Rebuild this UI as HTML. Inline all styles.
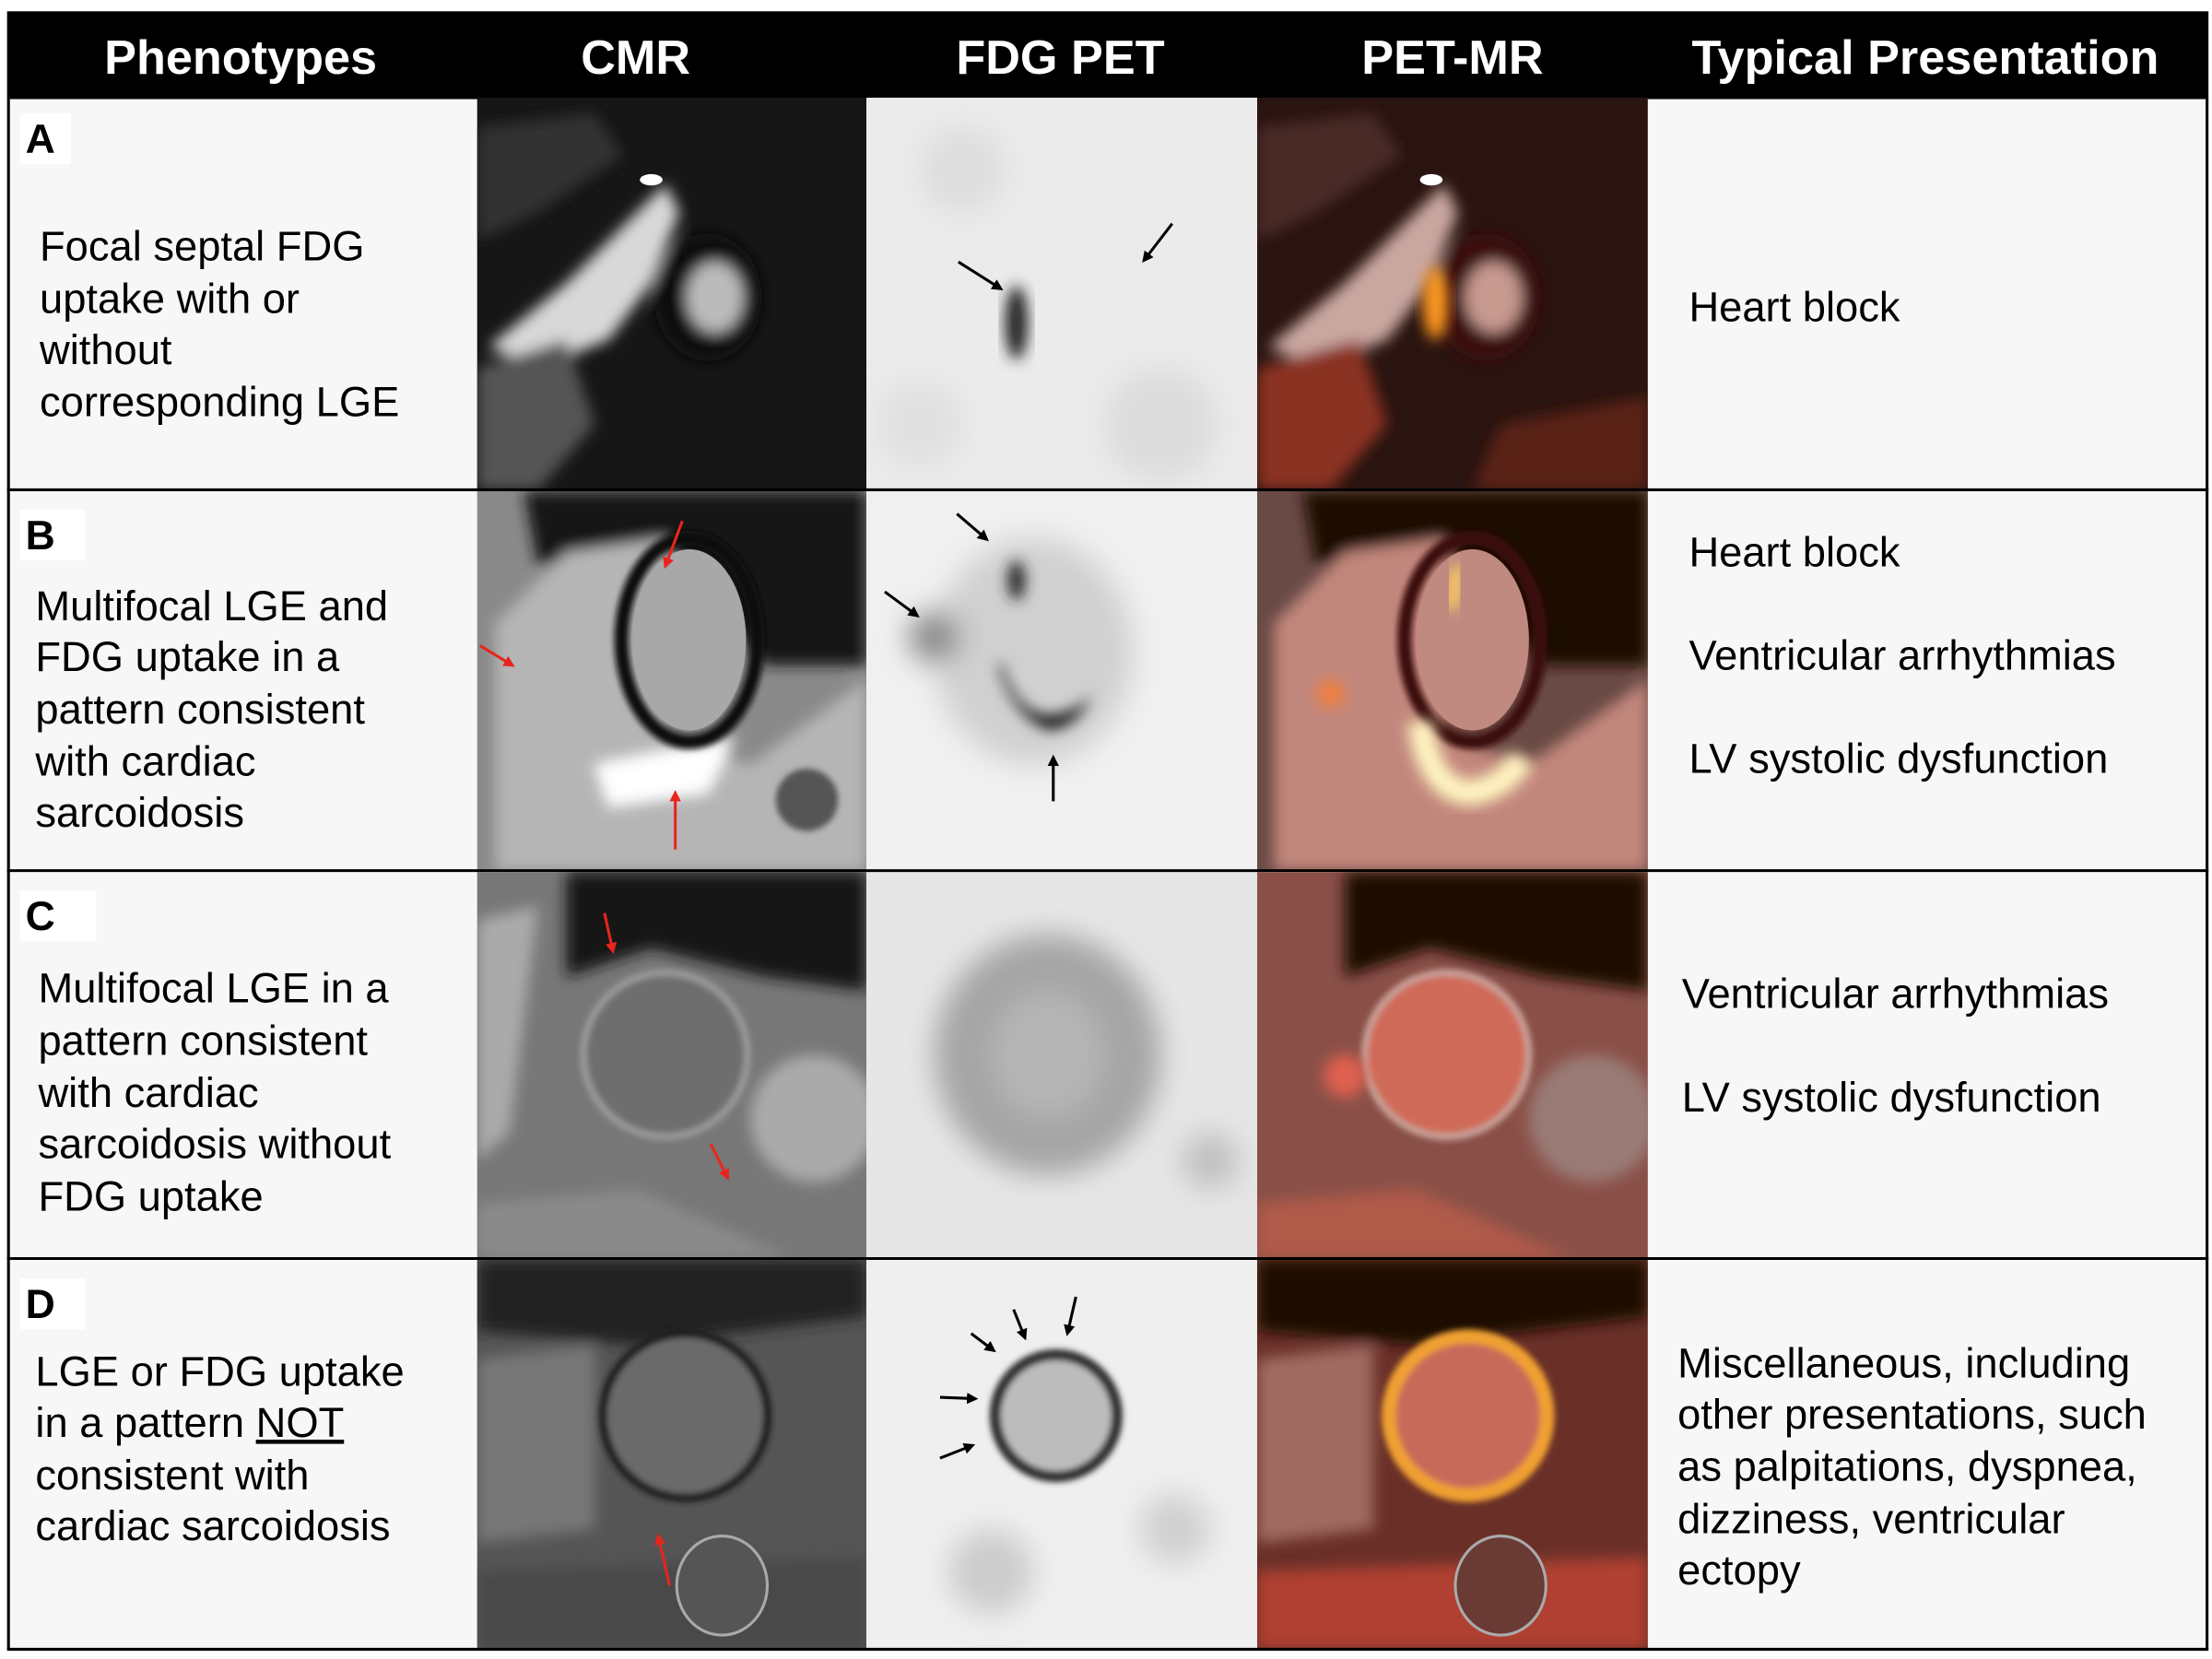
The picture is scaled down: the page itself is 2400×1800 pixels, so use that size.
<!DOCTYPE html>
<html><head><meta charset="utf-8"><style>
html,body{margin:0;padding:0;background:#fff;}
svg{display:block;}
text{font-family:"Liberation Sans",Arial,sans-serif;}
</style></head><body>
<svg width="2400" height="1800" viewBox="0 0 1562.5 1171.875" xmlns="http://www.w3.org/2000/svg">
<defs>
<filter id="b2" x="-20%" y="-20%" width="140%" height="140%"><feGaussianBlur stdDeviation="2"/></filter>
<filter id="b5" x="-30%" y="-30%" width="160%" height="160%"><feGaussianBlur stdDeviation="5"/></filter>
<filter id="b10" x="-50%" y="-50%" width="200%" height="200%"><feGaussianBlur stdDeviation="10"/></filter>
<clipPath id="cA1"><rect x="337" y="69" width="275" height="277"/></clipPath>
<clipPath id="cA2"><rect x="612" y="69" width="276" height="277"/></clipPath>
<clipPath id="cA3"><rect x="888" y="69" width="276" height="277"/></clipPath>
<clipPath id="cB1"><rect x="337" y="347" width="275" height="268"/></clipPath>
<clipPath id="cB2"><rect x="612" y="347" width="276" height="268"/></clipPath>
<clipPath id="cB3"><rect x="888" y="347" width="276" height="268"/></clipPath>
<clipPath id="cC1"><rect x="337" y="616" width="275" height="273"/></clipPath>
<clipPath id="cC2"><rect x="612" y="616" width="276" height="273"/></clipPath>
<clipPath id="cC3"><rect x="888" y="616" width="276" height="273"/></clipPath>
<clipPath id="cD1"><rect x="337" y="890" width="275" height="275"/></clipPath>
<clipPath id="cD2"><rect x="612" y="890" width="276" height="275"/></clipPath>
<clipPath id="cD3"><rect x="888" y="890" width="276" height="275"/></clipPath>
<marker id="ak" markerWidth="8" markerHeight="8" refX="6" refY="4" orient="auto" markerUnits="userSpaceOnUse"><path d="M0,0 L8,4 L0,8 Z" fill="#000"/></marker>
<marker id="ar" markerWidth="8" markerHeight="8" refX="6" refY="4" orient="auto" markerUnits="userSpaceOnUse"><path d="M0,0 L8,4 L0,8 Z" fill="#e8251c"/></marker>
</defs>

<rect x="5" y="69" width="1555" height="1097" fill="#f7f7f7"/>
<rect x="5" y="8" width="1555" height="62" fill="#000"/>
<g fill="#fff" font-weight="bold" font-size="34" text-anchor="middle">
<text x="170" y="52">Phenotypes</text>
<text x="449" y="52">CMR</text>
<text x="749" y="52">FDG PET</text>
<text x="1026" y="52">PET-MR</text>
<text x="1360" y="52">Typical Presentation</text>
</g>

<g clip-path="url(#cA1)">
<rect x="337" y="69" width="275" height="277" fill="#161616"/>
<g filter="url(#b5)">
<path d="M345,245 L400,200 L450,150 L470,130 L480,150 L460,200 L430,240 L380,260 Z" fill="#d8d8d8"/>
<ellipse cx="500" cy="210" rx="38" ry="45" fill="#0a0a0a"/>
<ellipse cx="505" cy="210" rx="20" ry="25" fill="#bbb"/>
<path d="M337,260 L400,240 L420,300 L380,346 L337,346Z" fill="#555"/>
<path d="M337,90 L420,80 L440,110 L380,150 L337,170Z" fill="#333"/>
</g>
<ellipse cx="460" cy="127" rx="8" ry="4" fill="#fff"/>
</g>
<g clip-path="url(#cA2)">
<rect x="612" y="69" width="276" height="277" fill="#ebebeb"/>
<g filter="url(#b10)"><circle cx="680" cy="120" r="30" fill="#ddd"/><circle cx="820" cy="300" r="40" fill="#dcdcdc"/><circle cx="650" cy="300" r="30" fill="#e0e0e0"/></g>
<ellipse cx="718" cy="228" rx="8" ry="26" fill="#222" filter="url(#b5)"/>
<line x1="677" y1="185" x2="707" y2="204" stroke="#000" stroke-width="2" marker-end="url(#ak)"/>
<line x1="828" y1="158" x2="808" y2="184" stroke="#000" stroke-width="2" marker-end="url(#ak)"/>
</g>
<g clip-path="url(#cA3)">
<rect x="888" y="69" width="276" height="277" fill="#2a1410"/>
<g filter="url(#b5)">
<path d="M896,245 L950,200 L1000,150 L1020,130 L1030,150 L1010,200 L980,240 L930,260 Z" fill="#c9a7a0"/>
<ellipse cx="1050" cy="210" rx="38" ry="45" fill="#3a0f0a"/>
<ellipse cx="1055" cy="210" rx="20" ry="25" fill="#c79a90"/>
<path d="M888,260 L960,240 L980,300 L940,346 L888,346Z" fill="#8a3020"/>
<path d="M888,90 L970,80 L990,110 L930,150 L888,170Z" fill="#4a2a25"/>
<path d="M1060,300 L1164,280 L1164,346 L1040,346Z" fill="#5a2018"/>
</g>
<ellipse cx="1014" cy="214" rx="9" ry="26" fill="#ff9a20" filter="url(#b5)"/>
<ellipse cx="1011" cy="127" rx="8" ry="4" fill="#fff"/>
</g>

<g clip-path="url(#cB1)">
<rect x="337" y="347" width="275" height="268" fill="#8a8a8a"/>
<g filter="url(#b5)">
<path d="M370,347 L612,347 L612,470 L540,470 L470,380 L380,400 Z" fill="#141414"/>
<path d="M350,560 L350,440 L400,390 L470,380 L470,520 L530,540 L612,480 L612,615 L350,615Z" fill="#b5b5b5"/>
<path d="M420,540 L470,530 L520,520 L500,560 L430,570Z" fill="#fff"/>
</g>
<ellipse cx="487" cy="452" rx="48" ry="72" fill="none" stroke="#111" stroke-width="10" filter="url(#b2)"/>
<ellipse cx="487" cy="452" rx="40" ry="64" fill="#a8a8a8"/>
<circle cx="570" cy="565" r="22" fill="#555" filter="url(#b2)"/>
<line x1="482" y1="368" x2="470" y2="400" stroke="#e8251c" stroke-width="2" marker-end="url(#ar)"/>
<line x1="339" y1="456" x2="362" y2="470" stroke="#e8251c" stroke-width="2" marker-end="url(#ar)"/>
<line x1="477" y1="600" x2="477" y2="560" stroke="#e8251c" stroke-width="2" marker-end="url(#ar)"/>
</g>
<g clip-path="url(#cB2)">
<rect x="612" y="347" width="276" height="268" fill="#f0f0f0"/>
<g filter="url(#b10)"><ellipse cx="730" cy="460" rx="70" ry="80" fill="#d0d0d0"/><circle cx="660" cy="450" r="18" fill="#888"/></g>
<g filter="url(#b5)">
<ellipse cx="718" cy="410" rx="6" ry="14" fill="#222"/>
<path d="M707,468 Q720,510 748,505 Q765,500 772,490 Q760,515 740,515 Q715,505 705,470Z" fill="#000"/>
</g>
<line x1="676" y1="363" x2="697" y2="381" stroke="#000" stroke-width="2" marker-end="url(#ak)"/>
<line x1="625" y1="418" x2="648" y2="435" stroke="#000" stroke-width="2" marker-end="url(#ak)"/>
<line x1="744" y1="566" x2="744" y2="535" stroke="#000" stroke-width="2" marker-end="url(#ak)"/>
</g>
<g clip-path="url(#cB3)">
<rect x="888" y="347" width="276" height="268" fill="#6a4a45"/>
<g filter="url(#b5)">
<path d="M920,347 L1164,347 L1164,470 L1090,470 L1020,380 L930,400 Z" fill="#1e0705"/>
<path d="M900,560 L900,440 L950,390 L1020,380 L1020,520 L1080,540 L1164,480 L1164,615 L900,615Z" fill="#c2877c"/>
</g>
<ellipse cx="1040" cy="452" rx="48" ry="72" fill="none" stroke="#3a0c08" stroke-width="10" filter="url(#b2)"/>
<ellipse cx="1040" cy="452" rx="40" ry="64" fill="#c08a80"/>
<path d="M1003,510 Q1010,560 1040,560 Q1065,555 1075,535" fill="none" stroke="#fff4c0" stroke-width="18" filter="url(#b5)"/>
<path d="M1025,430 L1030,400" stroke="#ffd060" stroke-width="10" filter="url(#b5)"/>
<circle cx="940" cy="490" r="10" fill="#f08040" filter="url(#b5)"/>
</g>

<g clip-path="url(#cC1)">
<rect x="337" y="616" width="275" height="273" fill="#777"/>
<g filter="url(#b5)">
<path d="M400,616 L612,616 L612,700 L540,690 L460,670 L400,690Z" fill="#121212"/>
<path d="M337,650 L380,640 L360,800 L337,820Z" fill="#aaa"/>
<path d="M337,850 L450,840 L560,889 L337,889Z" fill="#8a8a8a"/>
<circle cx="575" cy="790" r="45" fill="#aaa"/>
</g>
<circle cx="470" cy="745" r="58" fill="#6e6e6e" stroke="#9a9a9a" stroke-width="5" filter="url(#b2)"/>
<line x1="427" y1="645" x2="433" y2="672" stroke="#e8251c" stroke-width="2" marker-end="url(#ar)"/>
<line x1="502" y1="808" x2="514" y2="832" stroke="#e8251c" stroke-width="2" marker-end="url(#ar)"/>
</g>
<g clip-path="url(#cC2)">
<rect x="612" y="616" width="276" height="273" fill="#e6e6e6"/>
<g filter="url(#b10)">
<ellipse cx="740" cy="745" rx="80" ry="85" fill="#a5a5a5"/>
<ellipse cx="740" cy="745" rx="40" ry="45" fill="#b5b5b5"/>
<circle cx="855" cy="820" r="20" fill="#c0c0c0"/>
</g>
</g>
<g clip-path="url(#cC3)">
<rect x="888" y="616" width="276" height="273" fill="#8a5048"/>
<g filter="url(#b5)">
<path d="M950,616 L1164,616 L1164,700 L1090,690 L1010,670 L950,690Z" fill="#1a0806"/>
<circle cx="1125" cy="790" r="45" fill="#9a7a75"/>
<path d="M888,850 L1000,840 L1110,889 L888,889Z" fill="#b05a48"/>
</g>
<circle cx="1022" cy="745" r="58" fill="#d06a58" stroke="#c8a098" stroke-width="5" filter="url(#b2)"/>
<circle cx="950" cy="760" r="15" fill="#e06050" filter="url(#b5)"/>
</g>

<g clip-path="url(#cD1)">
<rect x="337" y="890" width="275" height="275" fill="#555"/>
<g filter="url(#b5)">
<path d="M337,890 L612,890 L612,930 L450,950 L337,940Z" fill="#222"/>
<path d="M337,960 L420,950 L420,1080 L337,1090Z" fill="#777"/>
<path d="M337,1110 L612,1100 L612,1165 L337,1165Z" fill="#4a4a4a"/>
</g>
<circle cx="484" cy="1000" r="58" fill="#6a6a6a" stroke="#1e1e1e" stroke-width="6" filter="url(#b2)"/>
<ellipse cx="510" cy="1120" rx="32" ry="35" fill="#555" stroke="#aaa" stroke-width="2"/>
<line x1="473" y1="1120" x2="465" y2="1085" stroke="#e8251c" stroke-width="2" marker-end="url(#ar)"/>
</g>
<g clip-path="url(#cD2)">
<rect x="612" y="890" width="276" height="275" fill="#efefef"/>
<g filter="url(#b10)"><circle cx="700" cy="1110" r="30" fill="#ccc"/><circle cx="830" cy="1080" r="25" fill="#d0d0d0"/></g>
<circle cx="746" cy="1000" r="43" fill="#bcbcbc" stroke="#333" stroke-width="8" filter="url(#b2)"/>
<line x1="686" y1="942" x2="702" y2="954" stroke="#000" stroke-width="2" marker-end="url(#ak)"/>
<line x1="716" y1="925" x2="724" y2="945" stroke="#000" stroke-width="2" marker-end="url(#ak)"/>
<line x1="760" y1="916" x2="754" y2="942" stroke="#000" stroke-width="2" marker-end="url(#ak)"/>
<line x1="664" y1="987" x2="689" y2="988" stroke="#000" stroke-width="2" marker-end="url(#ak)"/>
<line x1="664" y1="1030" x2="687" y2="1021" stroke="#000" stroke-width="2" marker-end="url(#ak)"/>
</g>
<g clip-path="url(#cD3)">
<rect x="888" y="890" width="276" height="275" fill="#6a3028"/>
<g filter="url(#b5)">
<path d="M888,890 L1164,890 L1164,930 L1000,950 L888,940Z" fill="#1e0806"/>
<path d="M888,960 L970,950 L970,1080 L888,1090Z" fill="#a06a62"/>
<path d="M888,1110 L1164,1100 L1164,1165 L888,1165Z" fill="#b04030"/>
</g>
<circle cx="1037" cy="1000" r="56" fill="#c86a5a" stroke="#f0a030" stroke-width="10" filter="url(#b2)"/>
<ellipse cx="1060" cy="1120" rx="32" ry="35" fill="#6a3a35" stroke="#aaa" stroke-width="2"/>
</g>

<g stroke="#000" stroke-width="2" fill="none">
<line x1="5" y1="346" x2="1560" y2="346"/>
<line x1="5" y1="615" x2="1560" y2="615"/>
<line x1="5" y1="889" x2="1560" y2="889"/>
<line x1="5" y1="1165" x2="1560" y2="1165"/>
<line x1="6" y1="69" x2="6" y2="1165"/>
<line x1="1559" y1="69" x2="1559" y2="1165"/>
</g>

<g fill="#000" font-weight="bold" font-size="29">
<rect x="14" y="80" width="36" height="36" fill="#fff"/>
<text x="18" y="108">A</text>
<rect x="14" y="360" width="46" height="36" fill="#fff"/>
<text x="18" y="388">B</text>
<rect x="14" y="629" width="54" height="36" fill="#fff"/>
<text x="18" y="657">C</text>
<rect x="14" y="903" width="46" height="36" fill="#fff"/>
<text x="18" y="931">D</text>
</g>

<g fill="#000" font-size="29.5">
<text x="28" y="184">Focal septal FDG</text>
<text x="28" y="221">uptake with or</text>
<text x="28" y="257">without</text>
<text x="28" y="294">corresponding LGE</text>
<text x="1193" y="227">Heart block</text>

<text x="25" y="438">Multifocal LGE and</text>
<text x="25" y="474">FDG uptake in a</text>
<text x="25" y="511">pattern consistent</text>
<text x="25" y="548">with cardiac</text>
<text x="25" y="584">sarcoidosis</text>
<text x="1193" y="400">Heart block</text>
<text x="1193" y="473">Ventricular arrhythmias</text>
<text x="1193" y="546">LV systolic dysfunction</text>

<text x="27" y="708">Multifocal LGE in a</text>
<text x="27" y="745">pattern consistent</text>
<text x="27" y="782">with cardiac</text>
<text x="27" y="818">sarcoidosis without</text>
<text x="27" y="855">FDG uptake</text>
<text x="1188" y="712">Ventricular arrhythmias</text>
<text x="1188" y="785">LV systolic dysfunction</text>

<text x="25" y="979">LGE or FDG uptake</text>
<text x="25" y="1015">in a pattern <tspan text-decoration="underline">NOT</tspan></text>
<text x="25" y="1052">consistent with</text>
<text x="25" y="1088">cardiac sarcoidosis</text>
<text x="1185" y="973">Miscellaneous, including</text>
<text x="1185" y="1009">other presentations, such</text>
<text x="1185" y="1046">as palpitations, dyspnea,</text>
<text x="1185" y="1083">dizziness, ventricular</text>
<text x="1185" y="1119">ectopy</text>
</g>
</svg>
</body></html>
